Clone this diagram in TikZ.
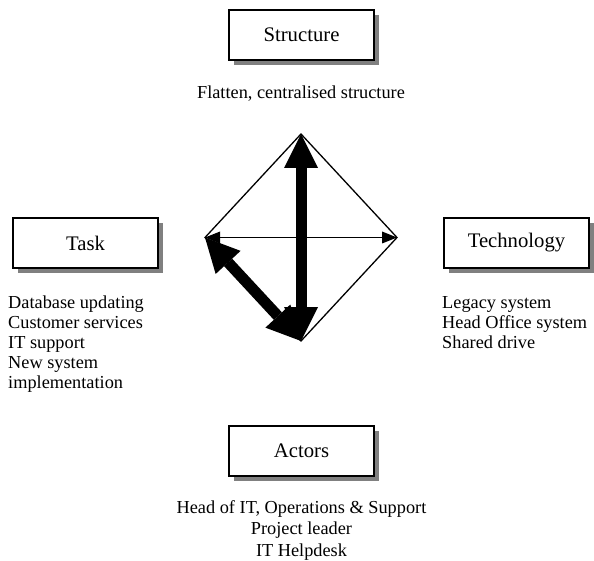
\documentclass[tikz,border=0pt]{standalone}
\usepackage{fontspec}
\setmainfont{Liberation Serif}
\usetikzlibrary{arrows.meta,shadows}
\begin{document}
\begin{tikzpicture}[x=1pt,y=-1pt,
  factorbox/.style={draw=black, line width=2pt, fill=white,
    minimum width=145pt, minimum height=50pt, inner sep=0pt,
    font=\fontsize{20.7}{24}\selectfont,
    drop shadow={shadow xshift=5pt, shadow yshift=-5pt, fill=black!50, opacity=1}},
  bodytext/.style={inner sep=0pt, font=\fontsize{18.3}{20.2}\selectfont},
  edge/.style={line width=1.3pt, line join=miter},
  thinarrow/.style={line width=1.5pt,
    {Triangle[length=15pt,width=12pt,line width=0pt]}-{Triangle[length=15pt,width=12pt,line width=0pt]}},
  boldarrow/.style={line width=11pt,
    {Triangle[length=34pt,width=34pt,line width=0pt]}-{Triangle[length=34pt,width=34pt,line width=0pt]}}
]
\useasboundingbox (0,0) rectangle (594,561);

% the four factor boxes
\node[factorbox] (structure)  at (301.5,35)  {Structure};
\node[factorbox] (task)       at (85.5,243)  {Task};
\node[factorbox] (technology) at (516.5,243) {Technology};
\node[factorbox] (actors)     at (301.5,451) {Actors};

% notes under each box
\node[bodytext, anchor=base] (structnote) at (301,99) {Flatten, centralised structure};
\foreach \t [count=\i] in {Database updating, Customer services, IT support, New system, implementation}
  \node[bodytext, anchor=base west] (task\i) at (8,{308+20.2*(\i-1)}) {\t};
\foreach \t [count=\i] in {Legacy system, Head Office system, Shared drive}
  \node[bodytext, anchor=base west] (tech\i) at (442,{308+20.2*(\i-1)}) {\t};
\foreach \t [count=\i] in {{Head of IT, Operations \& Support}, Project leader, IT Helpdesk}
  \node[bodytext, anchor=base] (actor\i) at (301.5,{513+21.8*(\i-1)}) {\t};

% diamond linking the four factors
\coordinate (dtop)    at (301,134);
\coordinate (dleft)   at (205,237.5);
\coordinate (dright)  at (397,237.5);
\coordinate (dbottom) at (301,341);
\draw[edge] (dleft) -- (dtop) -- (dright) -- (dbottom) -- cycle;

% interactions
\draw[thinarrow] (dleft) -- (dright);
\draw[boldarrow] (dleft) -- (dbottom);
\draw[boldarrow] (dbottom) -- (dtop);
\end{tikzpicture}
\end{document}
